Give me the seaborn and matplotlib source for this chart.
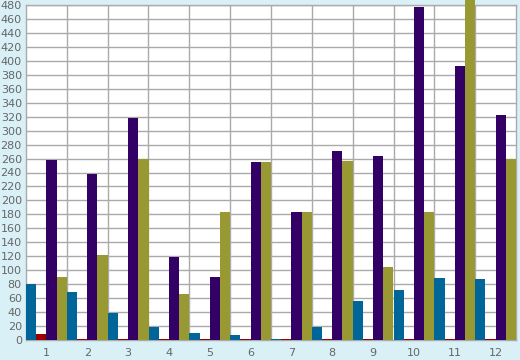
import numpy as np
import pandas as pd
import matplotlib
matplotlib.use("Agg")
import matplotlib.pyplot as plt
import seaborn as sns

# data
groups = ["1", "2", "3", "4", "5", "6", "7", "8", "9", "10", "11", "12"]
series_a = [80, 69, 39, 19, 10, 7, 2, 19, 56, 72, 89, 87]          # teal
series_b = [8, 1.5, 1.5, 1.5, 1.5, 1.5, 1.5, 1.5, 1.5, 1.5, 1.5, 1.5]  # dark red
series_c = [258, 238, 318, 119, 90, 255, 183, 271, 263, 477, 392, 322]  # purple
series_d = [90, 122, 260, 66, 183, 255, 183, 257, 105, 183, 495, 260]   # olive
series_names = ["A", "B", "C", "D"]
colors = ["#006699", "#990000", "#330066", "#999933"]
y_ticks = list(range(0, 481, 20))

df = pd.DataFrame({
    "group": groups * 4,
    "series": np.repeat(series_names, len(groups)),
    "value": series_a + series_b + series_c + series_d,
})

sns.set_style("white")
plt.rcParams["font.family"] = ["DejaVu Sans"]

bg = "#d9f0f7"
grid_c = "#aaaaaa"
text_c = "#666666"

fig = plt.figure(figsize=(5.2, 3.6), dpi=100, facecolor=bg)
ax = fig.add_axes([26 / 520, 20 / 360, 490 / 520, 335 / 360])
ax.set_facecolor("white")

sns.barplot(data=df, x="group", y="value", hue="series", order=groups,
            hue_order=series_names, palette=colors, width=1.0,
            saturation=1, legend=False, ax=ax, zorder=3)

# bars are not clipped: the tallest one runs past the top of the plot
for p in ax.patches:
    p.set_clip_on(False)
    p.set_linewidth(0)

ax.set_xlim(-0.5, len(groups) - 0.5)
ax.set_ylim(0, 480)
ax.set_yticks(y_ticks)
ax.set_yticklabels([str(v) for v in y_ticks])
ax.set_xticks(range(len(groups)))
ax.set_xticklabels(groups)
ax.set_xticks(np.arange(0.5, len(groups) - 0.5, 1), minor=True)

ax.grid(False)
ax.yaxis.grid(True, color=grid_c, linewidth=1, zorder=0)
ax.xaxis.grid(True, which="minor", color=grid_c, linewidth=1, zorder=0)
ax.set_axisbelow(True)

ax.tick_params(axis="x", which="major", length=0, pad=6, labelsize=8, labelcolor=text_c)
ax.tick_params(axis="x", which="minor", length=6, width=1, color=grid_c, direction="out")
ax.tick_params(axis="y", length=0, pad=3, labelsize=8, labelcolor=text_c)

for s in ax.spines.values():
    s.set_color(grid_c)
    s.set_linewidth(1)

ax.set_xlabel("")
ax.set_ylabel("")

fig.savefig("out.png", dpi=100, facecolor=bg)
